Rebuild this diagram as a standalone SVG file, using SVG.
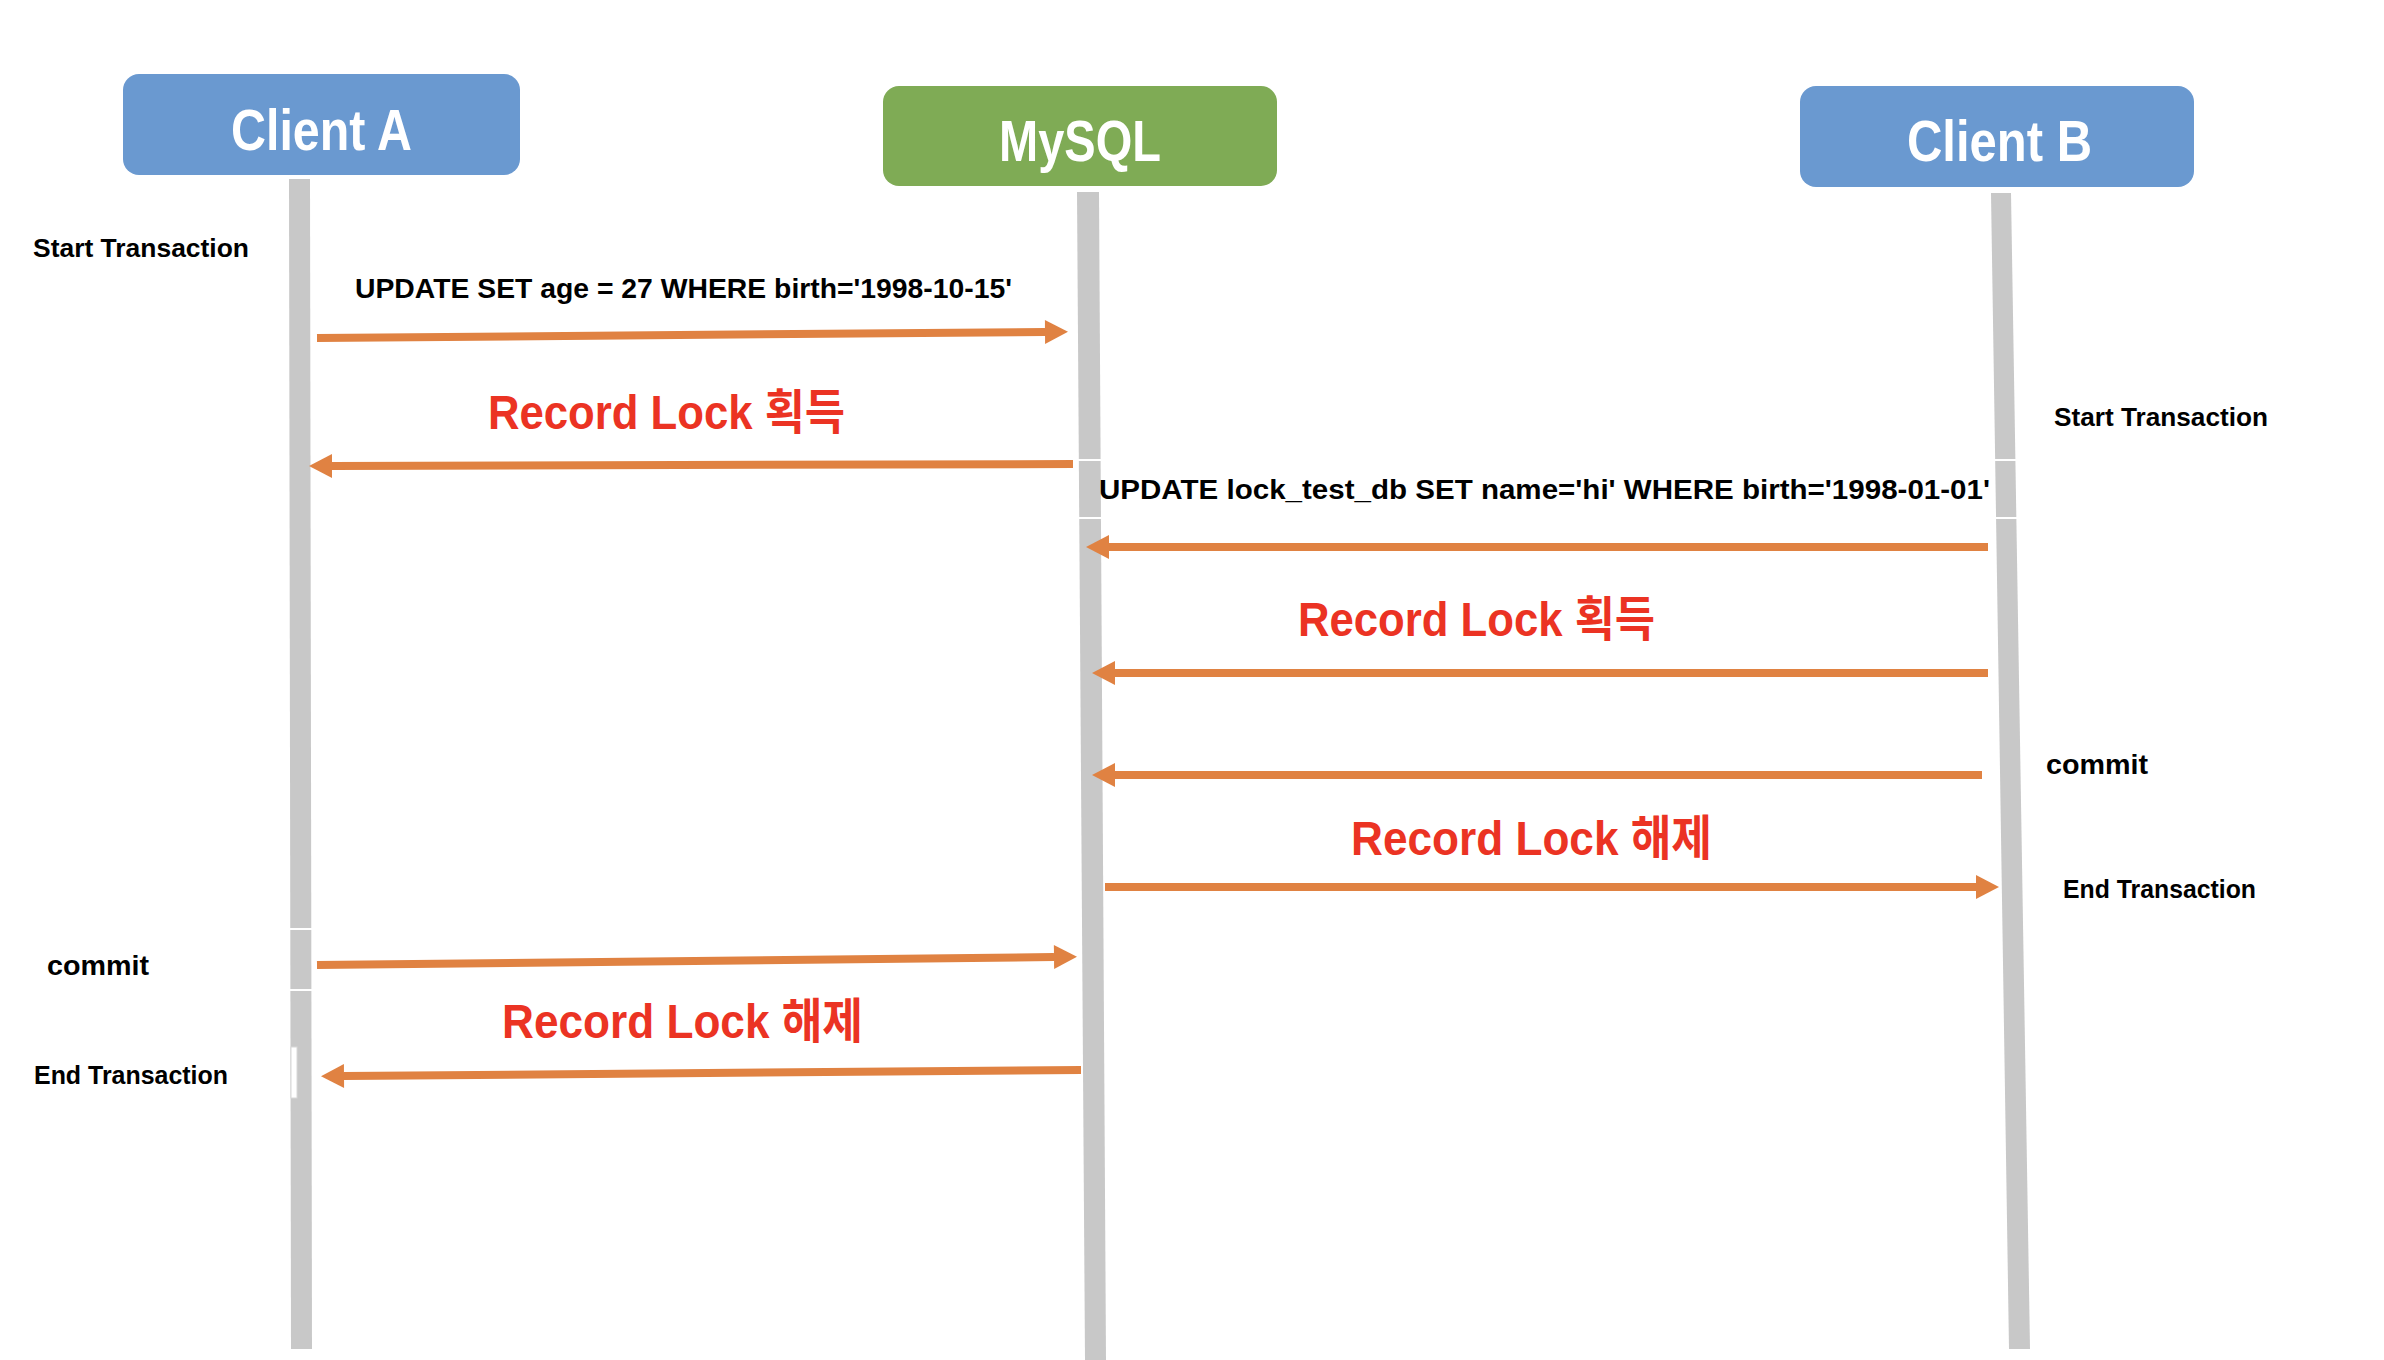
<svg xmlns="http://www.w3.org/2000/svg" width="2384" height="1360" viewBox="0 0 2384 1360">
<style>
.node-a{fill:#6A99D0}
.node-m{fill:#7FAB55}
.title{font-family:"Liberation Sans","Noto Sans CJK KR",sans-serif;font-weight:bold;font-size:58px;fill:#FFFFFF}
.life{fill:#C8C8C8}
.gap{fill:#FFFFFF}
.lbl{font-family:"Liberation Sans","Noto Sans CJK KR",sans-serif;font-weight:bold;fill:#000000}
.red{font-family:"Liberation Sans","Noto Sans CJK KR",sans-serif;font-weight:bold;font-size:48px;fill:#EB3323}
.msg{stroke:#E08242;stroke-width:8;fill:none;marker-end:url(#head)}
</style>
<defs>
<marker id="head" markerUnits="userSpaceOnUse" markerWidth="24" markerHeight="24" refX="0" refY="12" orient="auto" overflow="visible">
<path d="M0,0 L23,12 L0,24 Z" fill="#E08242"/>
</marker>
</defs>
<rect width="2384" height="1360" fill="#FFFFFF"/>

<g id="lifelines">
<polygon class="life" points="289,179 310,179 312,1349 291,1349"/>
<polygon class="life" points="1077,192 1099,192 1106,1360 1085,1360"/>
<polygon class="life" points="1991,193 2011,193 2030,1349 2009,1349"/>
<rect class="gap" x="1070" y="459" width="40" height="2"/>
<rect class="gap" x="1070" y="517" width="40" height="2"/>
<rect class="gap" x="1985" y="459" width="40" height="2"/>
<rect class="gap" x="1985" y="517" width="40" height="2"/>
<rect class="gap" x="285" y="928" width="30" height="2"/>
<rect class="gap" x="285" y="989" width="30" height="2"/>
<rect x="291" y="1047" width="6" height="51" fill="#FFFFFF" stroke="#D8D8D8" stroke-width="1"/>
</g>

<g id="client-a">
<rect class="node-a" x="123" y="74" width="397" height="101" rx="16"/>
<text class="title" x="231" y="150" textLength="181" lengthAdjust="spacingAndGlyphs">Client A</text>
</g>
<g id="mysql">
<rect class="node-m" x="883" y="86" width="394" height="100" rx="16"/>
<text class="title" x="999" y="161" textLength="162" lengthAdjust="spacingAndGlyphs">MySQL</text>
</g>
<g id="client-b">
<rect class="node-a" x="1800" y="86" width="394" height="101" rx="16"/>
<text class="title" x="1907" y="161" textLength="185" lengthAdjust="spacingAndGlyphs">Client B</text>
</g>

<g id="connectors">
<line class="msg" x1="317" y1="338" x2="1045" y2="332"/>
<line class="msg" x1="1073" y1="464" x2="332" y2="466"/>
<line class="msg" x1="1988" y1="547" x2="1109" y2="547"/>
<line class="msg" x1="1988" y1="673" x2="1115" y2="673"/>
<line class="msg" x1="1982" y1="775" x2="1115" y2="775"/>
<line class="msg" x1="1105" y1="887" x2="1976" y2="887"/>
<line class="msg" x1="317" y1="965" x2="1054" y2="957"/>
<line class="msg" x1="1081" y1="1070" x2="344" y2="1076"/>
</g>

<g id="labels">
<text class="lbl" x="33" y="257" font-size="26" textLength="216" lengthAdjust="spacingAndGlyphs">Start Transaction</text>
<text class="lbl" x="355" y="298" font-size="28" textLength="657" lengthAdjust="spacingAndGlyphs">UPDATE SET age = 27 WHERE birth='1998-10-15'</text>
<text class="red" x="488" y="429" textLength="357" lengthAdjust="spacingAndGlyphs">Record Lock 획득</text>
<text class="lbl" x="2054" y="426" font-size="25" textLength="214" lengthAdjust="spacingAndGlyphs">Start Transaction</text>
<text class="lbl" x="1099" y="499" font-size="27" textLength="891" lengthAdjust="spacingAndGlyphs">UPDATE lock_test_db SET name='hi' WHERE birth='1998-01-01'</text>
<text class="red" x="1298" y="636" textLength="357" lengthAdjust="spacingAndGlyphs">Record Lock 획득</text>
<text class="lbl" x="2046" y="774" font-size="28" textLength="102" lengthAdjust="spacingAndGlyphs">commit</text>
<text class="red" x="1351" y="855" textLength="361" lengthAdjust="spacingAndGlyphs">Record Lock 해제</text>
<text class="lbl" x="2063" y="898" font-size="25" textLength="193" lengthAdjust="spacingAndGlyphs">End Transaction</text>
<text class="lbl" x="47" y="975" font-size="28" textLength="102" lengthAdjust="spacingAndGlyphs">commit</text>
<text class="red" x="502" y="1038" textLength="361" lengthAdjust="spacingAndGlyphs">Record Lock 해제</text>
<text class="lbl" x="34" y="1084" font-size="25" textLength="194" lengthAdjust="spacingAndGlyphs">End Transaction</text>
</g>
</svg>
